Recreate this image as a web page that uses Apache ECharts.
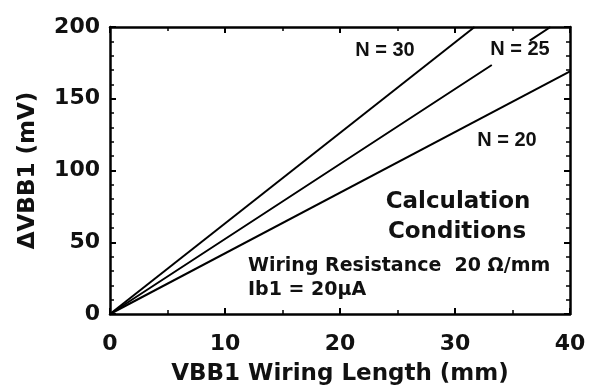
<!DOCTYPE html>
<html>
<head>
<meta charset="utf-8">
<script src="https://cdn.jsdelivr.net/npm/echarts@6/dist/echarts.min.js"></script>
<style>
  html, body { margin: 0; padding: 0; background: #fff; }
  #chart { width: 590px; height: 389px; }
</style>
</head>
<body>
<div id="chart"></div>
<script>
// wiring length (mm) vs delta VBB1 (mV)
var n30 = [[0, 0], [31.7, 200]];
// N=25 line is broken where its label sits
var n25 = [[0, 0], [33.2, 173.5], [34.8, '-'], [36.5, 190.5], [38.3, 200]];
var n20 = [[0, 0], [40, 169]];

var xTicks = [0, 10, 20, 30, 40];
var yTicks = [0, 50, 100, 150, 200];

var font = 'DejaVu Sans';

function kLine() {
    var o = document.getElementById('chart');
    var chart = echarts.init(o);

    var lineStyle = {color: '#000', width: 2};
    var axisBase = {
        type: 'value',
        axisLine: {show: true, onZero: false, lineStyle: {color: '#000', width: 2.5}},
        axisTick: {show: true, inside: true, length: 6, lineStyle: {color: '#000', width: 2}},
        minorTick: {show: true, length: 4, lineStyle: {color: '#000', width: 1.5}},
        splitLine: {show: false}
    };

    var option = {
        animation: false,
        backgroundColor: '#fff',
        grid: {left: 110, right: 20, top: 27, bottom: 75, containLabel: false, outerBoundsMode: 'none'},
        xAxis: [
            Object.assign({}, axisBase, {
                min: xTicks[0], max: xTicks[xTicks.length - 1], interval: 10,
                minorTick: Object.assign({}, axisBase.minorTick, {splitNumber: 2}),
                position: 'bottom',
                name: 'VBB1 Wiring Length (mm)',
                nameLocation: 'middle',
                nameGap: 49,
                nameTextStyle: {fontFamily: font, fontWeight: 'bold', fontSize: 23, color: '#111'},
                axisLabel: {margin: 19, fontFamily: font, fontWeight: 'bold', fontSize: 22, color: '#111'}
            }),
            Object.assign({}, axisBase, {
                min: xTicks[0], max: xTicks[xTicks.length - 1], interval: 10,
                minorTick: Object.assign({}, axisBase.minorTick, {splitNumber: 2}),
                position: 'top',
                axisLabel: {show: false}
            })
        ],
        yAxis: [
            Object.assign({}, axisBase, {
                min: yTicks[0], max: yTicks[yTicks.length - 1], interval: 50,
                minorTick: Object.assign({}, axisBase.minorTick, {splitNumber: 5}),
                position: 'left',
                name: '\u0394VBB1 (mV)',
                nameLocation: 'middle',
                nameGap: 70,
                nameRotate: 90,
                nameTextStyle: {fontFamily: font, fontWeight: 'bold', fontSize: 23, color: '#111'},
                axisLabel: {margin: 10, fontFamily: font, fontWeight: 'bold', fontSize: 22, color: '#111'}
            }),
            Object.assign({}, axisBase, {
                min: yTicks[0], max: yTicks[yTicks.length - 1], interval: 50,
                minorTick: Object.assign({}, axisBase.minorTick, {splitNumber: 5}),
                position: 'right',
                axisLabel: {show: false}
            })
        ],
        series: [
            {name: 'N = 30', type: 'line', data: n30, symbol: 'none', lineStyle: lineStyle},
            {name: 'N = 25', type: 'line', data: n25, symbol: 'none', connectNulls: false, lineStyle: lineStyle},
            {name: 'N = 20', type: 'line', data: n20, symbol: 'none', lineStyle: lineStyle}
        ],
        graphic: [
            {type: 'text', x: 385, y: 50, style: {text: 'N = 30', align: 'center', verticalAlign: 'middle', font: 'bold 20px "Liberation Sans"', fill: '#111'}},
            {type: 'text', x: 520, y: 49, style: {text: 'N = 25', align: 'center', verticalAlign: 'middle', font: 'bold 20px "Liberation Sans"', fill: '#111'}},
            {type: 'text', x: 507, y: 140, style: {text: 'N = 20', align: 'center', verticalAlign: 'middle', font: 'bold 20px "Liberation Sans"', fill: '#111'}},
            {type: 'text', x: 458, y: 202, style: {text: 'Calculation', align: 'center', verticalAlign: 'middle', font: 'bold 23px "DejaVu Sans"', fill: '#111'}},
            {type: 'text', x: 457, y: 232, style: {text: 'Conditions', align: 'center', verticalAlign: 'middle', font: 'bold 23px "DejaVu Sans"', fill: '#111'}},
            {type: 'text', x: 248, y: 266, style: {text: 'Wiring Resistance  20 \u03A9/mm', align: 'left', verticalAlign: 'middle', font: 'bold 19px "DejaVu Sans"', fill: '#111'}},
            {type: 'text', x: 248, y: 290, style: {text: 'Ib1 = 20\u03BCA', align: 'left', verticalAlign: 'middle', font: 'bold 19px "DejaVu Sans"', fill: '#111'}}
        ]
    };
    chart.setOption(option);
}

kLine();
</script>
</body>
</html>
